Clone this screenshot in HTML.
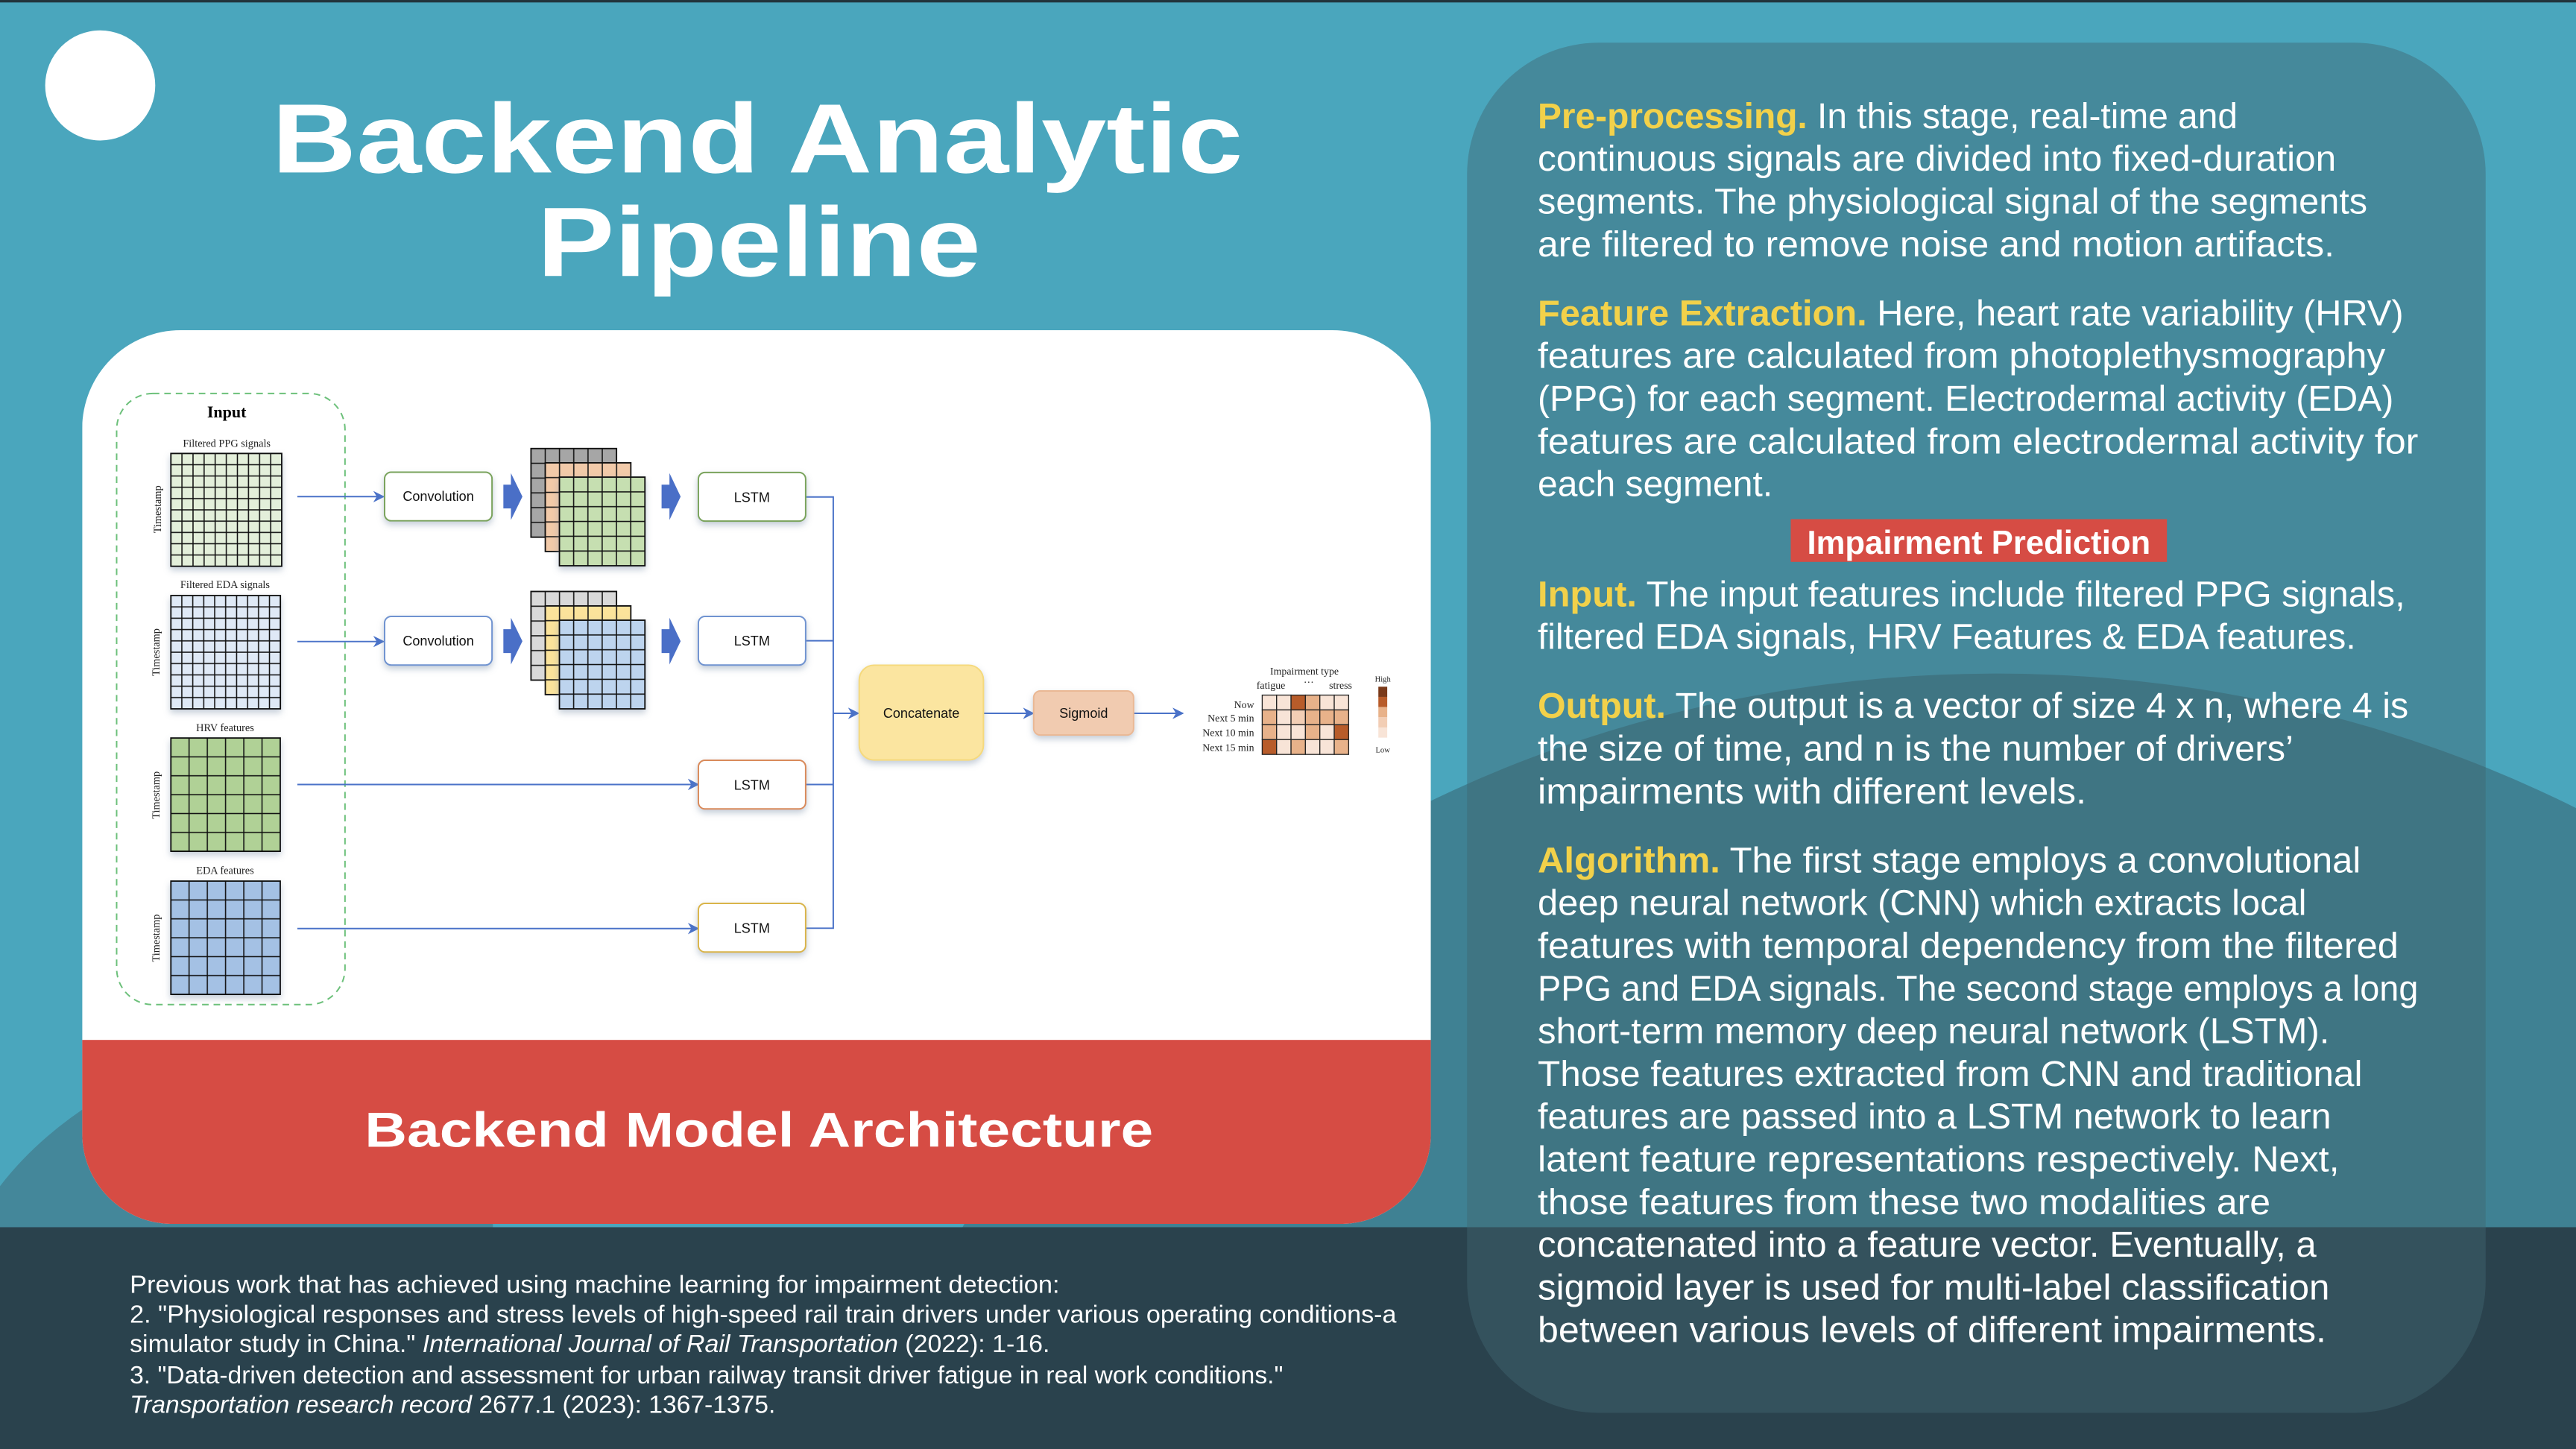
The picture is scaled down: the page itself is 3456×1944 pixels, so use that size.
<!DOCTYPE html>
<html><head><meta charset="utf-8"><style>html,body{margin:0;padding:0;background:#4aa6bd;width:3456px;height:1944px;overflow:hidden}svg{display:block;position:absolute;left:0;top:0}</style></head>
<body>
<svg xmlns="http://www.w3.org/2000/svg" width="3456" height="1944" viewBox="0 0 1568 882">
<defs>
<pattern id="pPPG" x="104" y="276" width="6.75" height="6.87" patternUnits="userSpaceOnUse"><rect width="6.75" height="6.87" fill="#e3efda" stroke="#111" stroke-width="0.7"/></pattern>
<pattern id="pEDA" x="104" y="362.5" width="6.67" height="6.9" patternUnits="userSpaceOnUse"><rect width="6.67" height="6.9" fill="#dfe9f6" stroke="#111" stroke-width="0.7"/></pattern>
<pattern id="pHRV" x="104" y="449.2" width="11.1" height="11.5" patternUnits="userSpaceOnUse"><rect width="11.1" height="11.5" fill="#b0d196" stroke="#111" stroke-width="0.7"/></pattern>
<pattern id="pEF" x="104" y="536.3" width="11.1" height="11.5" patternUnits="userSpaceOnUse"><rect width="11.1" height="11.5" fill="#a4c1e4" stroke="#111" stroke-width="0.7"/></pattern>
<pattern id="s1a" x="323.2" y="273" width="8.68" height="9" patternUnits="userSpaceOnUse"><rect width="8.68" height="9" fill="#a6a6a6" stroke="#111" stroke-width="0.7"/></pattern>
<pattern id="s1b" x="331.9" y="281.7" width="8.68" height="9" patternUnits="userSpaceOnUse"><rect width="8.68" height="9" fill="#f2caa9" stroke="#111" stroke-width="0.7"/></pattern>
<pattern id="s1c" x="340.5" y="290.4" width="8.68" height="9" patternUnits="userSpaceOnUse"><rect width="8.68" height="9" fill="#c6dfb1" stroke="#111" stroke-width="0.7"/></pattern>
<pattern id="s2a" x="323.2" y="360" width="8.68" height="9" patternUnits="userSpaceOnUse"><rect width="8.68" height="9" fill="#d9d9d9" stroke="#111" stroke-width="0.7"/></pattern>
<pattern id="s2b" x="331.9" y="368.8" width="8.68" height="9" patternUnits="userSpaceOnUse"><rect width="8.68" height="9" fill="#fbe39b" stroke="#111" stroke-width="0.7"/></pattern>
<pattern id="s2c" x="340.5" y="377.5" width="8.68" height="9" patternUnits="userSpaceOnUse"><rect width="8.68" height="9" fill="#bdd4ee" stroke="#111" stroke-width="0.7"/></pattern>
<marker id="ah" viewBox="0 0 10 10" refX="9" refY="5" markerWidth="7" markerHeight="7" orient="auto" markerUnits="userSpaceOnUse"><path d="M0,0 L10,5 L0,10 L3,5 Z" fill="#4a72c8"/></marker>
<clipPath id="card"><path d="M110,201 H811 A60,60 0 0 1 871,261 V690 A55,55 0 0 1 816,745 H105 A55,55 0 0 1 50,690 V261 A60,60 0 0 1 110,201 Z"/></clipPath>
<filter id="sh" x="-20%" y="-20%" width="140%" height="150%"><feDropShadow dx="0" dy="2" stdDeviation="2" flood-color="#7a8fa8" flood-opacity="0.45"/></filter>
</defs>

<rect width="1568" height="882" fill="#4aa6bd"/>
<rect width="1568" height="1.5" fill="#22343c"/>
<ellipse cx="1215" cy="1010" rx="700" ry="600" fill="#3f8193"/>
<path d="M0,722 Q40,670 120,640 L300,620 L300,760 L0,760 Z" fill="#44879a"/>
<rect x="0" y="747" width="1568" height="135" fill="#2a424d"/>

<circle cx="61" cy="52" r="33.5" fill="#fff"/>

<text x="461" y="105" text-anchor="middle" font-family="Liberation Sans, sans-serif" font-weight="bold" font-size="60" fill="#fff" textLength="591" lengthAdjust="spacingAndGlyphs">Backend Analytic</text>
<text x="462" y="168" text-anchor="middle" font-family="Liberation Sans, sans-serif" font-weight="bold" font-size="60" fill="#fff" textLength="270" lengthAdjust="spacingAndGlyphs">Pipeline</text>

<g clip-path="url(#card)">
<rect x="50" y="201" width="821" height="544" fill="#fff"/>
<rect x="50" y="633" width="821" height="112" fill="#d64c44"/>
</g>
<text x="462" y="698" text-anchor="middle" font-family="Liberation Sans, sans-serif" font-weight="bold" font-size="30" fill="#fff" textLength="480" lengthAdjust="spacingAndGlyphs">Backend Model Architecture</text>

<rect x="71" y="239.5" width="139" height="372" rx="22" fill="none" stroke="#6cc07a" stroke-width="0.9" stroke-dasharray="4,3"/>
<text x="138" y="254" text-anchor="middle" font-family="Liberation Serif, serif" font-weight="bold" font-size="10">Input</text>
<g font-family="Liberation Serif, serif" font-size="6.5" text-anchor="middle" fill="#222">
<text x="138" y="272">Filtered PPG signals</text>
<text x="137" y="358">Filtered EDA signals</text>
<text x="137" y="445">HRV features</text>
<text x="137" y="532">EDA features</text>
<text transform="translate(98,310) rotate(-90)">Timestamp</text>
<text transform="translate(97,397) rotate(-90)">Timestamp</text>
<text transform="translate(97,484) rotate(-90)">Timestamp</text>
<text transform="translate(97,571) rotate(-90)">Timestamp</text>
</g>
<rect x="104" y="276" width="67.5" height="68.7" fill="url(#pPPG)" stroke="#111" stroke-width="0.8" filter="url(#sh)"/>
<rect x="104" y="362.5" width="66.7" height="69" fill="url(#pEDA)" stroke="#111" stroke-width="0.8" filter="url(#sh)"/>
<rect x="104" y="449.2" width="66.6" height="69" fill="url(#pHRV)" stroke="#111" stroke-width="0.8" filter="url(#sh)"/>
<rect x="104" y="536.3" width="66.6" height="69" fill="url(#pEF)" stroke="#111" stroke-width="0.8" filter="url(#sh)"/>

<g stroke="#4a72c8" stroke-width="0.9" fill="none">
<line x1="181" y1="302.3" x2="233.5" y2="302.3" marker-end="url(#ah)"/>
<line x1="181" y1="390.5" x2="233.5" y2="390.5" marker-end="url(#ah)"/>
<line x1="181" y1="477.5" x2="425" y2="477.5" marker-end="url(#ah)"/>
<line x1="181" y1="565.2" x2="425" y2="565.2" marker-end="url(#ah)"/>
<path d="M490.4,302.5 H507.2 V565 H490.4"/>
<line x1="490.4" y1="390" x2="507.2" y2="390"/>
<line x1="490.4" y1="477.5" x2="507.2" y2="477.5"/>
<line x1="507.2" y1="434.2" x2="522.5" y2="434.2" marker-end="url(#ah)"/>
<line x1="598.6" y1="434.2" x2="629" y2="434.2" marker-end="url(#ah)"/>
<line x1="690" y1="434.2" x2="720" y2="434.2" marker-end="url(#ah)"/>
</g>

<g font-family="Liberation Sans, sans-serif" font-size="8.2" text-anchor="middle" fill="#111">
<rect x="234.1" y="287.4" width="65.4" height="29.6" rx="4" fill="#fff" stroke="#7aa35c" stroke-width="0.9" filter="url(#sh)"/>
<text x="266.8" y="305">Convolution</text>
<rect x="234.1" y="375.2" width="65.4" height="29.6" rx="4" fill="#fff" stroke="#6f93d0" stroke-width="0.9" filter="url(#sh)"/>
<text x="266.8" y="393">Convolution</text>
<rect x="425.1" y="287.6" width="65.3" height="29.6" rx="4" fill="#fff" stroke="#7aa35c" stroke-width="0.9" filter="url(#sh)"/>
<text x="457.7" y="305.5">LSTM</text>
<rect x="425.1" y="375.2" width="65.3" height="29.6" rx="4" fill="#fff" stroke="#6f93d0" stroke-width="0.9" filter="url(#sh)"/>
<text x="457.7" y="393">LSTM</text>
<rect x="425.1" y="462.8" width="65.3" height="29.6" rx="4" fill="#fff" stroke="#d98a5a" stroke-width="0.9" filter="url(#sh)"/>
<text x="457.7" y="480.7">LSTM</text>
<rect x="425.1" y="549.9" width="65.3" height="29.6" rx="4" fill="#fff" stroke="#d9b44a" stroke-width="0.9" filter="url(#sh)"/>
<text x="457.7" y="567.8">LSTM</text>
<rect x="523" y="404.9" width="75.6" height="57.7" rx="9" fill="#fbe5a0" stroke="#f5d97c" stroke-width="0.9" filter="url(#sh)"/>
<text x="560.8" y="437">Concatenate</text>
<rect x="629.2" y="420.6" width="60.8" height="26.8" rx="4" fill="#f1cbb0" stroke="#eab894" stroke-width="0.9" filter="url(#sh)"/>
<text x="659.6" y="437">Sigmoid</text>
</g>

<g fill="#4a6fc7">
<polygon points="306.4,295 311,295 311,288 318,302.3 311,316.5 311,309.5 306.4,309.5"/>
<polygon points="306.4,383 311,383 311,376 318,390.3 311,404.5 311,397.5 306.4,397.5"/>
<polygon points="402.7,295 407.5,295 407.5,288 414.3,302.3 407.5,316.5 407.5,309.5 402.7,309.5"/>
<polygon points="402.7,383 407.5,383 407.5,376 414.3,390.3 407.5,404.5 407.5,397.5 402.7,397.5"/>
</g>

<g stroke="#111" stroke-width="0.8">
<rect x="323.2" y="273" width="52.1" height="54" fill="url(#s1a)"/>
<rect x="331.9" y="281.7" width="52.1" height="54" fill="url(#s1b)"/>
<rect x="340.5" y="290.4" width="52.1" height="54" fill="url(#s1c)" filter="url(#sh)"/>
<rect x="323.2" y="360" width="52.1" height="54" fill="url(#s2a)"/>
<rect x="331.9" y="368.8" width="52.1" height="54" fill="url(#s2b)"/>
<rect x="340.5" y="377.5" width="52.1" height="54" fill="url(#s2c)" filter="url(#sh)"/>
</g>

<g stroke="#222" stroke-width="0.6">
<rect x="768.3" y="423.1" width="8.77" height="9.03" fill="#f8e4d7"/><rect x="777.07" y="423.1" width="8.77" height="9.03" fill="#f8e4d7"/><rect x="785.84" y="423.1" width="8.77" height="9.03" fill="#b85c2a"/><rect x="794.61" y="423.1" width="8.77" height="9.03" fill="#e8b28a"/><rect x="803.38" y="423.1" width="8.77" height="9.03" fill="#f8e4d7"/><rect x="812.15" y="423.1" width="8.77" height="9.03" fill="#f8e4d7"/>
<rect x="768.3" y="432.13" width="8.77" height="9.03" fill="#e8b28a"/><rect x="777.07" y="432.13" width="8.77" height="9.03" fill="#f8e4d7"/><rect x="785.84" y="432.13" width="8.77" height="9.03" fill="#f2ceb5"/><rect x="794.61" y="432.13" width="8.77" height="9.03" fill="#e8b28a"/><rect x="803.38" y="432.13" width="8.77" height="9.03" fill="#e8b28a"/><rect x="812.15" y="432.13" width="8.77" height="9.03" fill="#e8b28a"/>
<rect x="768.3" y="441.16" width="8.77" height="9.03" fill="#e8b28a"/><rect x="777.07" y="441.16" width="8.77" height="9.03" fill="#f8e4d7"/><rect x="785.84" y="441.16" width="8.77" height="9.03" fill="#f8e4d7"/><rect x="794.61" y="441.16" width="8.77" height="9.03" fill="#e8b28a"/><rect x="803.38" y="441.16" width="8.77" height="9.03" fill="#f8e4d7"/><rect x="812.15" y="441.16" width="8.77" height="9.03" fill="#b85c2a"/>
<rect x="768.3" y="450.19" width="8.77" height="9.03" fill="#b85c2a"/><rect x="777.07" y="450.19" width="8.77" height="9.03" fill="#f8e4d7"/><rect x="785.84" y="450.19" width="8.77" height="9.03" fill="#e8b28a"/><rect x="794.61" y="450.19" width="8.77" height="9.03" fill="#f8e4d7"/><rect x="803.38" y="450.19" width="8.77" height="9.03" fill="#f8e4d7"/><rect x="812.15" y="450.19" width="8.77" height="9.03" fill="#e8b28a"/>
</g>
<rect x="839" y="418" width="5.4" height="6.2" fill="#7a3a1a"/>
<rect x="839" y="424.2" width="5.4" height="6.2" fill="#b85c2a"/>
<rect x="839" y="430.4" width="5.4" height="6.2" fill="#e8b28a"/>
<rect x="839" y="436.6" width="5.4" height="6.2" fill="#f2ceb5"/>
<rect x="839" y="442.8" width="5.4" height="6.2" fill="#f8e4d7"/>
<g font-family="Liberation Serif, serif" fill="#222">
<text x="794" y="410.5" font-size="6.3" text-anchor="middle">Impairment  type</text>
<text x="773.6" y="419.3" font-size="6.3" text-anchor="middle">fatigue</text>
<text x="796.6" y="417.5" font-size="6.3" text-anchor="middle">···</text>
<text x="816" y="419.3" font-size="6.3" text-anchor="middle">stress</text>
<text x="763.4" y="431" font-size="6.3" text-anchor="end">Now</text>
<text x="763.4" y="439.2" font-size="6.3" text-anchor="end">Next 5 min</text>
<text x="763.4" y="448" font-size="6.3" text-anchor="end">Next 10 min</text>
<text x="763.4" y="457.2" font-size="6.3" text-anchor="end">Next 15 min</text>
<text x="841.7" y="415" font-size="4.8" text-anchor="middle">High</text>
<text x="841.7" y="458" font-size="4.8" text-anchor="middle">Low</text>
</g>

<rect x="893" y="26" width="620" height="834" rx="80" fill="rgb(64,103,112)" fill-opacity="0.45"/>
<rect x="1090" y="316" width="229" height="26" fill="#d64c44"/>
<g font-family="Liberation Sans Narrow, Liberation Sans, sans-serif" font-size="22" fill="#fff">
<text x="936" y="78" textLength="426" lengthAdjust="spacingAndGlyphs"><tspan fill="#f2d14a" font-weight="bold">Pre-processing.</tspan> In this stage, real-time and</text>
<text x="936" y="104" textLength="486" lengthAdjust="spacingAndGlyphs">continuous signals are divided into fixed-duration</text>
<text x="936" y="130" textLength="505" lengthAdjust="spacingAndGlyphs">segments. The physiological signal of the segments</text>
<text x="936" y="156" textLength="485" lengthAdjust="spacingAndGlyphs">are filtered to remove noise and motion artifacts.</text>
<text x="936" y="198" textLength="527" lengthAdjust="spacingAndGlyphs"><tspan fill="#f2d14a" font-weight="bold">Feature Extraction.</tspan> Here, heart rate variability (HRV)</text>
<text x="936" y="224" textLength="516" lengthAdjust="spacingAndGlyphs">features are calculated from photoplethysmography</text>
<text x="936" y="250" textLength="521" lengthAdjust="spacingAndGlyphs">(PPG) for each segment. Electrodermal activity (EDA)</text>
<text x="936" y="276" textLength="536" lengthAdjust="spacingAndGlyphs">features are calculated from electrodermal activity for</text>
<text x="936" y="302" textLength="143" lengthAdjust="spacingAndGlyphs">each segment.</text>
<text x="1204.5" y="337" text-anchor="middle" font-weight="bold" font-size="20" textLength="209" lengthAdjust="spacingAndGlyphs">Impairment Prediction</text>
<text x="936" y="369" textLength="528" lengthAdjust="spacingAndGlyphs"><tspan fill="#f2d14a" font-weight="bold">Input.</tspan> The input features include filtered PPG signals,</text>
<text x="936" y="395" textLength="498" lengthAdjust="spacingAndGlyphs">filtered EDA signals, HRV Features &amp; EDA features.</text>
<text x="936" y="437" textLength="530" lengthAdjust="spacingAndGlyphs"><tspan fill="#f2d14a" font-weight="bold">Output.</tspan> The output is a vector of size 4 x n, where 4 is</text>
<text x="936" y="463" textLength="460" lengthAdjust="spacingAndGlyphs">the size of time, and n is the number of drivers’</text>
<text x="936" y="489" textLength="334" lengthAdjust="spacingAndGlyphs">impairments with different levels.</text>
<text x="936" y="531" textLength="501" lengthAdjust="spacingAndGlyphs"><tspan fill="#f2d14a" font-weight="bold">Algorithm.</tspan> The first stage employs a convolutional</text>
<text x="936" y="557" textLength="468" lengthAdjust="spacingAndGlyphs">deep neural network (CNN) which extracts local</text>
<text x="936" y="583" textLength="524" lengthAdjust="spacingAndGlyphs">features with temporal dependency from the filtered</text>
<text x="936" y="609" textLength="536" lengthAdjust="spacingAndGlyphs">PPG and EDA signals. The second stage employs a long</text>
<text x="936" y="635" textLength="482" lengthAdjust="spacingAndGlyphs">short-term memory deep neural network (LSTM).</text>
<text x="936" y="661" textLength="502" lengthAdjust="spacingAndGlyphs">Those features extracted from CNN and traditional</text>
<text x="936" y="687" textLength="483" lengthAdjust="spacingAndGlyphs">features are passed into a LSTM network to learn</text>
<text x="936" y="713" textLength="488" lengthAdjust="spacingAndGlyphs">latent feature representations respectively. Next,</text>
<text x="936" y="739" textLength="446" lengthAdjust="spacingAndGlyphs">those features from these two modalities are</text>
<text x="936" y="765" textLength="474" lengthAdjust="spacingAndGlyphs">concatenated into a feature vector. Eventually, a</text>
<text x="936" y="791" textLength="482" lengthAdjust="spacingAndGlyphs">sigmoid layer is used for multi-label classification</text>
<text x="936" y="817" textLength="480" lengthAdjust="spacingAndGlyphs">between various levels of different impairments.</text>
</g>

<g font-family="Liberation Sans Narrow, Liberation Sans, sans-serif" font-size="15" fill="#fff">
<text x="79" y="787" textLength="566" lengthAdjust="spacingAndGlyphs">Previous work that has achieved using machine learning for impairment detection:</text>
<text x="79" y="805" textLength="771" lengthAdjust="spacingAndGlyphs">2. "Physiological responses and stress levels of high-speed rail train drivers under various operating conditions-a</text>
<text x="79" y="823" textLength="560" lengthAdjust="spacingAndGlyphs">simulator study in China." <tspan font-style="italic">International Journal of Rail Transportation</tspan> (2022): 1-16.</text>
<text x="79" y="842" textLength="702" lengthAdjust="spacingAndGlyphs">3. "Data-driven detection and assessment for urban railway transit driver fatigue in real work conditions."</text>
<text x="79" y="860" textLength="393" lengthAdjust="spacingAndGlyphs"><tspan font-style="italic">Transportation research record</tspan> 2677.1 (2023): 1367-1375.</text>
</g>
</svg>
</body></html>
